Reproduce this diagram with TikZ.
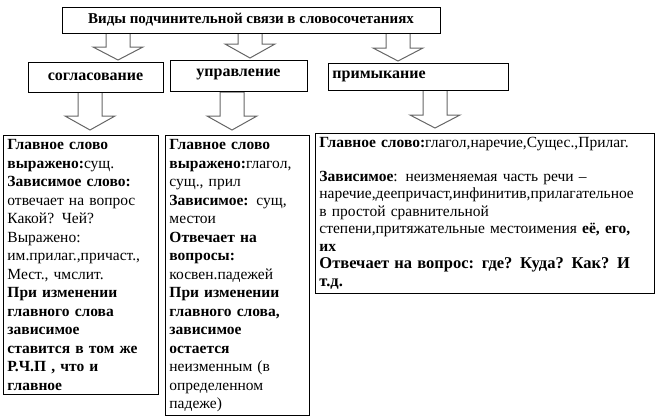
\documentclass[tikz,border=0pt]{standalone}
\usepackage{fontspec}
\setmainfont{Liberation Serif}
\usetikzlibrary{positioning}

\tikzset{
    kindbox/.style={draw, line width=0.9pt, inner sep=2pt, font=\bfseries\fontsize{16}{18}\selectfont},
    infobox/.style={draw, line width=0.9pt, anchor=north west, align=left, inner sep=4pt,
        font=\fontsize{15.5}{18.5}\selectfont},
    hollow/.style={draw=gray!80!black, line width=1pt, fill=white}
}
% block arrow: center x, top y, head start y, tip y
\newcommand\blockarrow[4]{
    \draw[hollow] (#1-12,#2) -- (#1+12,#2) -- (#1+12,#3) -- (#1+25,#3) -- (#1,#4)
        -- (#1-25,#3) -- (#1-12,#3) -- cycle;
}

\begin{document}
\begin{tikzpicture}[x=1pt,y=-1pt]
    \useasboundingbox (0,0) rectangle (660,415);

    % arrows from the title
    \blockarrow{118}{33}{47}{60}
    \blockarrow{250}{26}{44}{58}
    \blockarrow{398}{33}{48}{61}
    % arrows to the boxes
    \blockarrow{90}{92}{116}{130}
    \blockarrow{232}{92}{116}{130}
    \blockarrow{435}{90}{115}{128}

    \node[kindbox, minimum width=378pt, minimum height=26pt, fill=white,
          font=\bfseries\fontsize{15}{16}\selectfont] (title) at (251,20)
        {Виды подчинительной связи в словосочетаниях};
    \node[kindbox, minimum width=135pt, minimum height=30pt, fill=white] (agree) at (95.5,77) {согласование};
    \node[kindbox, minimum width=137pt, minimum height=31pt, fill=white, anchor=north] (govern) at (238.5,60)
        {\raisebox{6pt}{управление}};
    \node[kindbox, minimum width=180pt, minimum height=27pt, fill=white, anchor=west,
          text width=172pt, align=left] (adjoin) at (328,76.5) {примыкание};

    \node[infobox, text width=147pt, minimum height=257pt, anchor=north west] (agreeinfo) at (3,135)
        {\textbf{Главное слово}\\ \textbf{выражено:}сущ.\\ \textbf{Зависимое слово:}\\
         отвечает на вопрос\\ Какой? Чей?\\ Выражено:\\ им.прилаг.,причаст.,\\ Мест., чмслит.\\
         \textbf{При изменении}\\ \textbf{главного слова}\\ \textbf{зависимое}\\
         \textbf{ставится в том же}\\ \textbf{Р.Ч.П , что и}\\ \textbf{главное}};
    \node[infobox, text width=136pt, minimum height=275pt] (governinfo) at (165,135)
        {\textbf{Главное слово}\\ \textbf{выражено:}глагол,\\ сущ., прил\\ \textbf{Зависимое:} сущ,\\
         местои\\ \textbf{Отвечает на}\\ \textbf{вопросы:}\\ косвен.падежей\\
         \textbf{При изменении}\\ \textbf{главного слова,}\\ \textbf{зависимое}\\ \textbf{остается}\\
         неизменным (в\\ определенном\\ падеже)};
    \node[infobox, text width=331pt, minimum height=149pt,
          font=\fontsize{15.5}{17.5}\selectfont] (adjoininfo) at (315,133)
        {\textbf{Главное слово:}глагол,наречие,Сущес.,Прилаг.\\[16pt]
         \textbf{Зависимое}: неизменяемая часть речи –\\
         наречие,деепричаст,инфинитив,прилагательное\\ в простой сравнительной\\
         степени,притяжательные местоимения \textbf{её, его,}\\ \textbf{их}\\
         \textbf{\fontsize{16.5}{17.5}\selectfont Отвечает на вопрос: где? Куда? Как? И т.д.}};
\end{tikzpicture}
\end{document}
